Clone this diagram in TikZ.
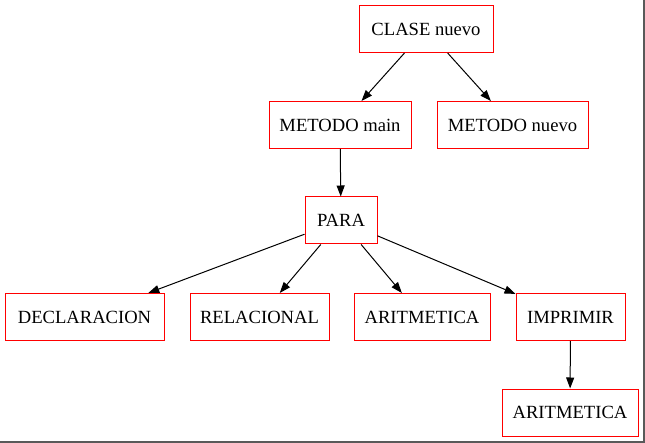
\documentclass[tikz,border=0pt]{standalone}
\usepackage{fontspec}
\setmainfont{Liberation Serif}
\usetikzlibrary{arrows.meta}
\begin{document}
\begin{tikzpicture}[x=1pt,y=-1pt,
  box/.style={draw=red, line width=1pt, minimum height=47pt, inner sep=0pt, font=\fontsize{18.6}{21}\selectfont, fill=white},
  edge/.style={draw=black, line width=1pt, -{Triangle[length=11pt,width=8pt]}}]
\useasboundingbox (0,0) rectangle (645,443);
\fill[white] (0,0) rectangle (645,443);
\draw[gray!70!black, line width=1.5pt] (0,442) -- (644,442) -- (644,0);
\node[box, minimum width=134pt] (clase) at (426,29) {CLASE nuevo};
\node[box, minimum width=142pt] (mmain) at (340,125) {METODO main};
\node[box, minimum width=151pt] (mnuevo) at (512.5,125) {METODO nuevo};
\node[box, minimum width=72pt] (para) at (341,220.5) {PARA};
\node[box, minimum width=159pt] (decl) at (84.5,317) {DECLARACION};
\node[box, minimum width=139pt] (rel) at (259.5,317) {RELACIONAL};
\node[box, minimum width=136pt] (arit) at (422,317) {ARITMETICA};
\node[box, minimum width=109pt] (impr) at (570.5,317) {IMPRIMIR};
\node[box, minimum width=136pt] (arit2) at (570,412.5) {ARITMETICA};
\draw[edge] (clase) -- (mmain);
\draw[edge] (clase) -- (mnuevo);
\draw[edge] (mmain) -- (para);
\draw[edge] (para) -- (decl);
\draw[edge] (para) -- (rel);
\draw[edge] (para) -- (arit);
\draw[edge] (para) -- (impr);
\draw[edge] (impr) -- (arit2);
\end{tikzpicture}
\end{document}
